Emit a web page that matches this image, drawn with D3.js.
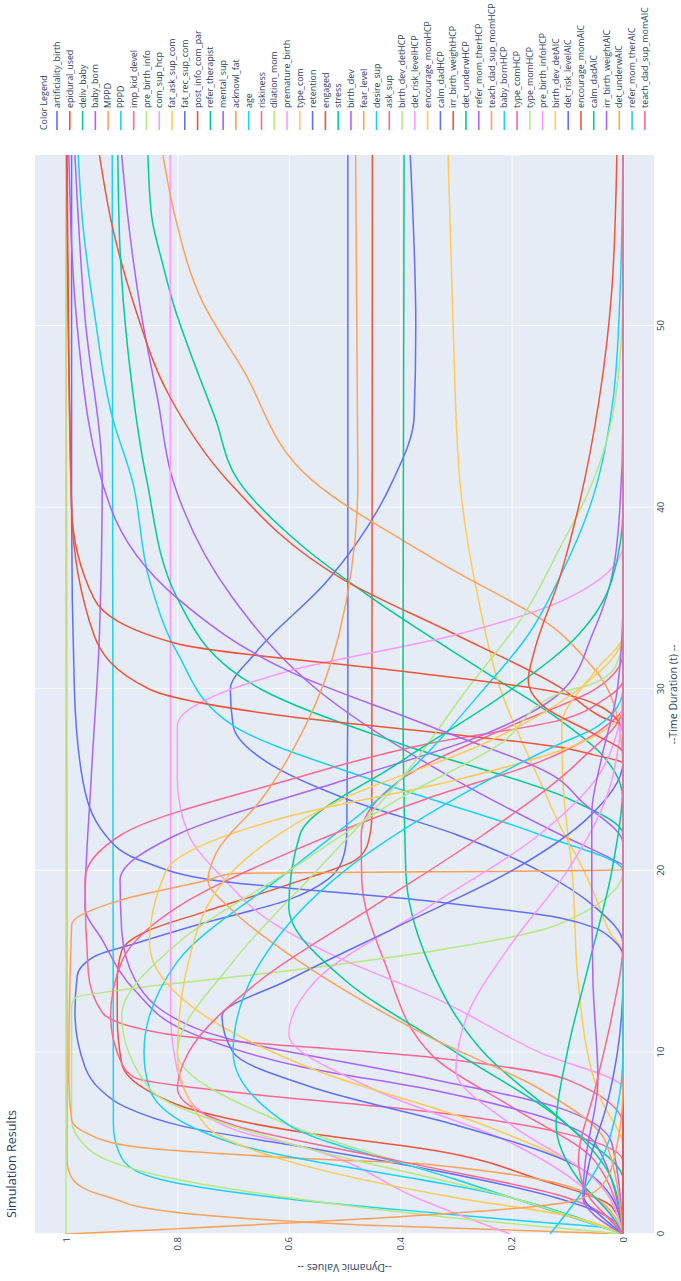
<!DOCTYPE html>
<html>
<head>
<meta charset="utf-8">
<script src="https://cdn.jsdelivr.net/npm/d3@7"></script>
<style>
  html, body { margin: 0; padding: 0; background: #fff; }
  svg { display: block; }
  text { font-family: "Open Sans", "Noto Sans", sans-serif; fill: #2a3f5f; }
</style>
</head>
<body>
<svg id="chart" width="681" height="1281"></svg>
<script>
// ---- series names (legend order) ----
const seriesNames = [
  "artificiality_birth","epidural_used","deliv_baby","baby_born","MPPD","PPPD",
  "imp_kid_devel","pre_birth_info","com_sup_hcp","fat_ask_sup_com","fat_rec_sup_com",
  "post_info_com_par","refer_therapist","mental_sup","acknowl_fat","age","riskiness",
  "dilation_mom","premature_birth","type_com","retention","engaged","stress","birth_dev",
  "fear_level","desire_sup","ask_sup","birth_dev_detHCP","det_risk_levelHCP",
  "encourage_momHCP","calm_dadHCP","irr_birth_weightHCP","det_underwHCP",
  "refer_mom_therHCP","teach_dad_sup_momHCP","baby_bornHCP","type_comHCP","type_momHCP",
  "pre_birth_infoHCP","birth_dev_detAIC","det_risk_levelAIC","encourage_momAIC",
  "calm_dadAIC","irr_birth_weightAIC","det_underwAIC","refer_mom_therAIC",
  "teach_dad_sup_momAIC"
];

const palette = ["#636efa","#EF553B","#00cc96","#ab63fa","#FFA15A",
                 "#19d3f3","#FF6692","#B6E880","#FF97FF","#FECB52"];

const timeTicks = [0, 10, 20, 30, 40, 50];
const valueTicks = [0, 0.2, 0.4, 0.6, 0.8, 1];
const tEnd = 59.42;

// ---- simulated trajectories: [time, value] ----
const artificiality_birth = [[0,0],[1,.03],[2,.12],[3.5,.338],[4.8,.576],[5.9,.786],[7,.894],[8,.94],[9.2,.966],[12.2,.984],[14.2,.98],[15.3,.948],[16,.876],[17.1,.756],[18.4,.601],[19.5,.531],[20.5,.505],[22,.496],[30,.494],[tEnd,.494]];
const epidural_used = [[0,0],[1.5,.02],[3,.15],[4.6,.338],[5.6,.576],[6.7,.756],[7.9,.853],[9.4,.9],[12,.908],[14,.908],[15.6,.9],[16.7,.853],[17.7,.756],[19.5,.576],[20.6,.48],[21.5,.458],[23,.451],[tEnd,.45]];
const deliv_baby = [[0,0],[23.9,0],[24.8,.005],[26.5,.041],[28.3,.113],[31,.25],[35,.45],[38,.58],[41.5,.691],[45,.733],[48.3,.774],[50.9,.804],[53.6,.828],[56,.846],[tEnd,.853]];
const baby_born = [[0,0],[20.3,0],[20.5,.011],[22,.113],[25,.3],[30,.55],[35,.7],[41.5,.808],[45.9,.835],[50.5,.864],[56,.889],[tEnd,.9]];
const MPPD = [[0,0],[0.5,.47],[1,.74],[1.5,.87],[1.9,.91],[2.4,.96],[3.1,.99],[4,.998],[tEnd,1]];
const PPPD = [[0,0],[0.3,.02],[0.7,.17],[1.16,.338],[2,.62],[3,.83],[3.5,.876],[4.5,.905],[6,.915],[tEnd,.917]];
const imp_kid_devel = [[0,0],[4,.05],[7,.2],[9.7,.338],[14.9,.427],[19.5,.469],[22,.47],[25,.4],[28,.2],[30,.05],[32,0],[tEnd,0]];
const pre_birth_info = [[0,1],[tEnd,1]];
const com_sup_hcp = [[0,.203],[1.9,.364],[4.8,.576],[5.6,.684],[6.7,.756],[8.1,.79],[10,.806],[12,.812],[tEnd,.813]];
const fat_ask_sup_com = [[0,0],[15.5,0],[16.6,.023],[18.9,.054],[20.8,.083],[21.7,.1],[25,.15],[30,.22],[35,.26],[41.5,.293],[50,.305],[tEnd,.314]];
const fat_rec_sup_com = [[0,0],[16,0],[18,.05],[20,.15],[22,.3],[24,.5],[26,.64],[28,.7],[30,.705],[32,.66],[36,.53],[41.5,.413],[45,.375],[50,.372],[tEnd,.382]];
const post_info_com_par = [[0,0],[27.9,0],[28.5,.04],[30.1,.113],[33,.3],[36,.5],[41.5,.71],[46.3,.817],[51,.876],[55.5,.917],[tEnd,.94]];
const refer_therapist = [[0,0],[22,0],[24,.1],[27,.4],[30,.65],[35,.8],[41.5,.855],[48.7,.889],[54.2,.903],[tEnd,.907]];
const mental_sup = [[0,0],[5,.05],[7.9,.338],[9.2,.576],[11.2,.786],[13.4,.876],[16.2,.935],[18,.966],[25,.955],[33,.94],[41.5,.935],[50.5,.966],[57,.98],[tEnd,.984]];
const acknowl_fat = [[0,0],[25.5,0],[27.6,.005],[30.7,.041],[32,.077],[33.1,.113],[37,.33],[41.5,.558],[47.7,.684],[51.4,.756],[56,.804],[tEnd,.826]];
const age = [[0,0],[20,0],[22,.15],[25,.45],[28,.7],[32,.8],[36,.85],[41.5,.881],[45,.917],[50.5,.948],[56,.971],[tEnd,.978]];
const riskiness = [[0,0],[6,0],[8.5,.1],[9.7,.338],[11,.817],[12.2,.935],[14.4,.96],[19.5,.966],[22,.9],[25,.6],[27,.35],[28.3,.113],[29.4,.036],[30.5,0],[tEnd,0]];
const dilation_mom = [[0,0],[1,.34],[2,.6],[3,.8],[4,.92],[5,.97],[6.3,.99],[12.5,.99],[13,.984],[13.4,.91],[14.5,.6],[15.6,.338],[17,.12],[20,0],[tEnd,0]];
const premature_birth = [[0,0],[8,0],[10,.15],[13,.338],[15.3,.517],[17.3,.637],[19.5,.715],[22,.78],[25,.8],[28,.8],[31,.6],[33,.3],[35,.1],[38,0],[tEnd,0]];
const type_com = [[0,0],[4.8,0],[7.5,.041],[14,.081],[19.5,.09],[25,.108],[28,.11],[31,.05],[33,0],[tEnd,0]];
const retention = [[0,0],[15.3,0],[16.2,.018],[16.9,.054],[17.4,.113],[18.3,.338],[19.5,.738],[20.5,.86],[22,.93],[25,.97],[30,.985],[40,.99],[tEnd,.99]];
const engaged = [[0,0],[25.9,0],[26.4,.054],[26.8,.113],[27.5,.3],[28.5,.6],[30,.85],[33,.95],[40,.99],[tEnd,.998]];
const stress = [[0,0],[3,0],[6,.1],[10,.25],[15,.35],[20,.39],[30,.395],[tEnd,.393]];
const birth_dev = [[0,0],[5,.02],[7,.12],[8.5,.338],[11.2,.756],[14,.876],[16.7,.9],[19.5,.903],[22,.8],[25,.5],[27.5,.25],[29.8,.113],[33.1,.054],[35.8,.023],[38.6,.009],[45,0],[tEnd,0]];
const fear_level = [[0,0],[2,.05],[3.8,.34],[4.2,.6],[4.8,.876],[5.6,.966],[6.3,.99],[8.5,.995],[17,.99],[17.3,.985],[18.4,.9],[19.5,.745],[19.85,.7],[20.05,0],[tEnd,0]];
const desire_sup = [[0,0],[2,.2],[5,.7],[8,.85],[10,.86],[15,.8],[20,.6],[25,.4],[30,.25],[33,.17],[36.2,.113],[40,.06],[45.9,.018],[52,.005],[tEnd,0]];
const ask_sup = [[0,0],[4,0],[5.5,.1],[6.7,.338],[7.8,.697],[8.6,.876],[9.4,.9],[12,.92],[15,.9],[18,.8],[21,.6],[24,.35],[26,.15],[28,.03],[29,0],[tEnd,0]];
const birth_dev_detHCP = [[0,0],[3,.3],[6,.6],[10,.8],[15,.7],[20,.55],[25,.4],[30,.28],[34,.18],[37.8,.113],[41,.06],[45.9,.014],[52,0],[tEnd,0]];
const det_risk_levelHCP = [[0,0],[2,.05],[5,.2],[8,.45],[11,.6],[14,.55],[18,.35],[22,.15],[26,.03],[30,0],[tEnd,0]];
const encourage_momHCP = [[0,0],[3,.05],[6,.25],[9,.55],[12,.75],[16,.85],[20,.82],[23,.6],[25,.3],[27,.08],[29,0],[tEnd,0]];
const calm_dadHCP = [[0,0],[2,.02],[4,.1],[6,.3],[8,.55],[10,.7],[12,.72],[14,.6],[17,.4],[20,.2],[23,.06],[26,0],[tEnd,0]];
const irr_birth_weightHCP = [[0,0],[27.5,0],[28.3,.01],[29.8,.113],[31,.4],[32.5,.8],[35,.95],[40,.99],[tEnd,.999]];
const det_underwHCP = [[0,0],[3,.02],[6,.1],[10,.3],[14,.5],[18,.6],[22,.58],[26,.4],[30,.2],[33,.08],[36,.02],[40,0],[tEnd,0]];
const refer_mom_therHCP = [[0,0],[21.5,0],[23.9,.077],[25,.113],[28,.35],[31,.6],[35,.8],[40,.92],[50,.98],[tEnd,.995]];
const teach_dad_sup_momHCP = [[0,0],[5,.03],[8,.15],[10.7,.338],[14.9,.576],[17.7,.697],[19.5,.745],[21,.73],[23.9,.65],[28,.57],[33,.51],[41.5,.476],[tEnd,.48]];
const baby_bornHCP = [[0,0],[3,.3],[6,.6],[10,.7],[15,.65],[20,.5],[24,.3],[27,.113],[27.8,.054],[28.7,.018],[30,0],[tEnd,0]];
const type_comHCP = [[0,0],[2,.1],[4,.4],[6,.7],[8,.8],[10,.78],[14,.65],[18,.45],[22,.25],[26,.08],[29,0],[tEnd,0]];
const type_momHCP = [[0,0],[2,.2],[5,.6],[8,.85],[12,.9],[16,.8],[20,.6],[24,.4],[27,.22],[29.8,.113],[30.3,.054],[31.4,.011],[33.1,0],[tEnd,0]];
const pre_birth_infoHCP = [[0,0],[3,.05],[6,.2],[9,.3],[12,.28],[16,.2],[20,.1],[25,.02],[30,0],[tEnd,0]];
const birth_dev_detAIC = [[0,0],[1,.1],[2,.3],[4,.6],[6,.75],[10,.8],[15,.78],[20,.7],[24,.5],[27,.25],[30,.08],[33,0],[tEnd,0]];
const det_risk_levelAIC = [[0,0],[1,.04],[2,.07],[4,.06],[7,.03],[10,.01],[14,0],[tEnd,0]];
const encourage_momAIC = [[0,0],[26.5,0],[27.5,.05],[29,.14],[30.5,.17],[32,.16],[36.2,.113],[40.4,.077],[45.9,.043],[52,.02],[tEnd,.011]];
const calm_dadAIC = [[0,0],[1,.02],[3,.08],[6,.12],[10,.1],[15,.06],[20,.02],[25,0],[tEnd,0]];
const irr_birth_weightAIC = [[0,0],[1,.05],[2,.072],[3.9,.068],[8.5,.045],[14,.054],[20,.056],[23.2,.056],[26,.04],[30,.01],[35,0],[tEnd,0]];
const det_underwAIC = [[0,1],[1.9,.08],[3,.03],[5,.01],[8,0],[tEnd,0]];
const refer_mom_therAIC = [[0,.131],[1.9,.083],[4,.04],[7,.01],[10,0],[tEnd,0]];
const teach_dad_sup_momAIC = [[0,0],[1,.03],[2,.06],[4,.08],[8,.05],[12,.02],[16,0],[tEnd,0]];

const seriesValues = {
  artificiality_birth, epidural_used, deliv_baby, baby_born, MPPD, PPPD, imp_kid_devel,
  pre_birth_info, com_sup_hcp, fat_ask_sup_com, fat_rec_sup_com, post_info_com_par,
  refer_therapist, mental_sup, acknowl_fat, age, riskiness, dilation_mom, premature_birth,
  type_com, retention, engaged, stress, birth_dev, fear_level, desire_sup, ask_sup,
  birth_dev_detHCP, det_risk_levelHCP, encourage_momHCP, calm_dadHCP, irr_birth_weightHCP,
  det_underwHCP, refer_mom_therHCP, teach_dad_sup_momHCP, baby_bornHCP, type_comHCP,
  type_momHCP, pre_birth_infoHCP, birth_dev_detAIC, det_risk_levelAIC, encourage_momAIC,
  calm_dadAIC, irr_birth_weightAIC, det_underwAIC, refer_mom_therAIC, teach_dad_sup_momAIC
};

// ---- layout (landscape figure, turned a quarter-turn onto the portrait page) ----
const W = 1281, H = 681;
const plot = { left: 47, right: 1126, top: 35, bottom: 654 };

const svg = d3.select("#chart");
const fig = svg.append("g").attr("transform", `translate(0,${W}) rotate(-90)`);

const x = d3.scaleLinear().domain([0, tEnd]).range([plot.left, plot.right]);
const y = d3.scaleLinear().domain([-0.0557, 1.0557]).range([plot.bottom, plot.top]);

fig.append("rect").attr("width", W).attr("height", H).attr("fill", "#fff");
fig.append("rect")
  .attr("x", plot.left).attr("y", plot.top)
  .attr("width", plot.right - plot.left).attr("height", plot.bottom - plot.top)
  .attr("fill", "#E5ECF6");

// grid
const xGrid = fig.append("g").attr("transform", `translate(0,${plot.bottom})`)
  .call(d3.axisBottom(x).tickValues(timeTicks).tickSize(-(plot.bottom - plot.top)).tickFormat(""));
xGrid.select(".domain").remove();
xGrid.selectAll("line").attr("stroke", "#fff").attr("stroke-width", 0.8);

const yGrid = fig.append("g").attr("transform", `translate(${plot.left},0)`)
  .call(d3.axisLeft(y).tickValues(valueTicks).tickSize(-(plot.right - plot.left)).tickFormat(""));
yGrid.select(".domain").remove();
yGrid.selectAll("line").attr("stroke", "#fff").attr("stroke-width", d => d === 0 ? 1.6 : 0.8);

// series
fig.append("clipPath").attr("id", "plotClip").append("rect")
  .attr("x", plot.left).attr("y", plot.top)
  .attr("width", plot.right - plot.left).attr("height", plot.bottom - plot.top);

const line = d3.line().x(d => x(d[0])).y(d => y(d[1])).curve(d3.curveMonotoneX);
const color = d3.scaleOrdinal().domain(seriesNames).range(palette);

fig.append("g").attr("clip-path", "url(#plotClip)")
  .selectAll("path").data(seriesNames).join("path")
  .attr("d", name => line(seriesValues[name]))
  .attr("fill", "none")
  .attr("stroke", name => color(name))
  .attr("stroke-width", 1.5)
  .attr("stroke-linejoin", "round");

// tick labels
const xAxis = fig.append("g").attr("transform", `translate(0,${plot.bottom})`)
  .call(d3.axisBottom(x).tickValues(timeTicks).tickSize(0).tickPadding(3).tickFormat(d3.format("d")));
xAxis.select(".domain").remove();
xAxis.selectAll("text").attr("font-size", 9.6).attr("fill", "#2a3f5f");

const yAxis = fig.append("g").attr("transform", `translate(${plot.left},0)`)
  .call(d3.axisLeft(y).tickValues(valueTicks).tickSize(0).tickPadding(3).tickFormat(d => d === 0 || d === 1 ? String(d) : d3.format(".1f")(d)));
yAxis.select(".domain").remove();
yAxis.selectAll("text").attr("font-size", 9.6).attr("fill", "#2a3f5f");

// axis titles
fig.append("text")
  .attr("x", (plot.left + plot.right) / 2).attr("y", 677)
  .attr("text-anchor", "middle").attr("font-size", 10.6)
  .text("--Time Duration (t) --");
fig.append("text")
  .attr("transform", `translate(17,${(plot.top + plot.bottom) / 2}) rotate(-90)`)
  .attr("text-anchor", "middle").attr("font-size", 10.6)
  .text("--Dynamic Values --");

// title
fig.append("text").attr("x", 63).attr("y", 16)
  .attr("font-size", 12.6).text("Simulation Results");

// legend
const legend = fig.append("g").attr("transform", "translate(1151,0)");
legend.append("text").attr("x", 0).attr("y", 44).attr("dy", "0.35em")
  .attr("font-size", 8.9).text("Color Legend");
const item = legend.selectAll("g.item").data(seriesNames).join("g")
  .attr("class", "item")
  .attr("transform", (d, i) => `translate(0,${57 + i * 12.78})`);
item.append("line").attr("x1", 0).attr("x2", 19)
  .attr("stroke", d => color(d)).attr("stroke-width", 1.6);
item.append("text").attr("x", 22).attr("dy", "0.35em")
  .attr("font-size", 8.9).text(d => d);
</script>
</body>
</html>
